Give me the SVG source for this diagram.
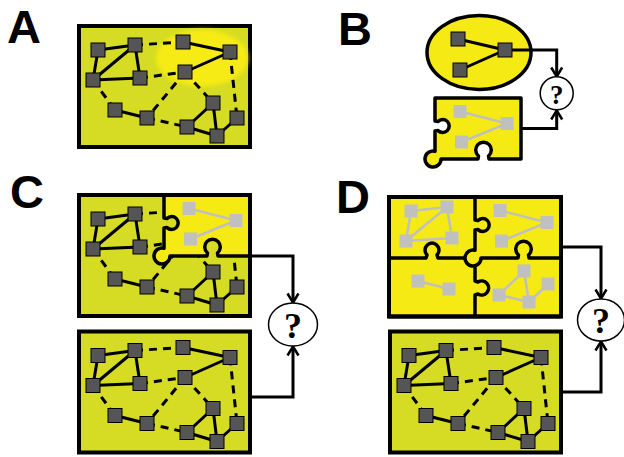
<svg xmlns="http://www.w3.org/2000/svg" xmlns:xlink="http://www.w3.org/1999/xlink" width="624" height="457" viewBox="0 0 624 457">
<style>
.box{fill:#d5dc23;stroke:#000;stroke-width:4}
.frame{fill:none;stroke:#000;stroke-width:4}
.yel{fill:#f6ea14;stroke:#000;stroke-width:3.5;stroke-linejoin:round}
.div{fill:none;stroke:#000;stroke-width:3.5;stroke-linejoin:round}
.e line{stroke:#000;stroke-width:3}
.d line{stroke:#000;stroke-width:3;stroke-dasharray:8 6}
.n{fill:#555;stroke:#000;stroke-width:1}
.g{fill:#c0c0c0}
.ge{stroke:#c0c0c0;stroke-width:2.5}
.conn{fill:none;stroke:#000;stroke-width:3}
.q{fill:#fff;stroke:#000;stroke-width:1.5}
.qt{font-family:"Liberation Serif",serif;font-weight:bold;text-anchor:middle;fill:#000}
.lab{font-family:"Liberation Sans",Arial,sans-serif;font-weight:bold;font-size:47px;fill:#000}
</style>
<defs>
<filter id="blur" x="-30%" y="-30%" width="160%" height="160%"><feGaussianBlur stdDeviation="2"/></filter>
<marker id="arr" viewBox="-11 -8 13 16" refX="0" refY="0" markerWidth="13" markerHeight="16" markerUnits="userSpaceOnUse" orient="auto">
<path d="M-9,-5.5 L0,0 L-9,5.5" fill="none" stroke="#000" stroke-width="2.5"/>
</marker>
<g id="net">
<g class="e">
<line x1="98" y1="50" x2="135" y2="45"/>
<line x1="98" y1="50" x2="93" y2="80"/>
<line x1="93" y1="80" x2="135" y2="45"/>
<line x1="135" y1="45" x2="140" y2="78"/>
<line x1="93" y1="80" x2="140" y2="78"/>
<line x1="183" y1="42" x2="230" y2="52"/>
<line x1="185" y1="72" x2="230" y2="52"/>
<line x1="115" y1="110" x2="147" y2="118"/>
<line x1="187" y1="127" x2="213" y2="103"/>
<line x1="187" y1="127" x2="217" y2="136"/>
<line x1="213" y1="103" x2="217" y2="136"/>
<line x1="217" y1="136" x2="237" y2="118"/>
</g>
<g class="d">
<line x1="135" y1="45" x2="183" y2="42"/>
<line x1="140" y1="78" x2="185" y2="72"/>
<line x1="185" y1="72" x2="147" y2="118"/>
<line x1="93" y1="80" x2="115" y2="110"/>
<line x1="147" y1="118" x2="187" y2="127"/>
<line x1="230" y1="52" x2="237" y2="118"/>
<line x1="185" y1="72" x2="213" y2="103"/>
</g>
<rect class="n" x="91" y="43" width="14" height="14"/>
<rect class="n" x="128" y="38" width="14" height="14"/>
<rect class="n" x="176" y="35" width="14" height="14"/>
<rect class="n" x="223" y="45" width="14" height="14"/>
<rect class="n" x="86" y="73" width="14" height="14"/>
<rect class="n" x="133" y="71" width="14" height="14"/>
<rect class="n" x="178" y="65" width="14" height="14"/>
<rect class="n" x="108" y="103" width="14" height="14"/>
<rect class="n" x="140" y="111" width="14" height="14"/>
<rect class="n" x="180" y="120" width="14" height="14"/>
<rect class="n" x="206" y="96" width="14" height="14"/>
<rect class="n" x="230" y="111" width="14" height="14"/>
<rect class="n" x="210" y="129" width="14" height="14"/>
</g>
<path id="piece" d="M0,0 H86 V61 H54 L53.5,58 A7.8,7.8 0 1 0 43.5,58 L43,61 H6 A8,8 0 1 1 0,53.25 V33 L3,32.5 A6.5,6.5 0 1 0 3,23.5 L0,23 Z"/>
<g id="gnet">
<line class="ge" x1="25" y1="13.5" x2="72" y2="25.5"/>
<line class="ge" x1="26.5" y1="44" x2="72" y2="25.5"/>
<rect class="g" x="18.5" y="7" width="13" height="13"/>
<rect class="g" x="65.5" y="19" width="13" height="13"/>
<rect class="g" x="20" y="37.5" width="13" height="13"/>
</g>
</defs>

<g id="labels">
<text class="lab" x="7" y="43">A</text>
<text class="lab" x="338" y="45">B</text>
<text class="lab" x="10" y="208">C</text>
<text class="lab" x="336" y="213">D</text>
</g>

<g id="panelA">
<rect class="box" x="79" y="26" width="171" height="121"/>
<ellipse cx="202" cy="58" rx="46" ry="28.5" fill="#f7eb12" filter="url(#blur)"/>
<use xlink:href="#net" href="#net"/>
</g>

<g id="panelB">
<ellipse class="yel" cx="479" cy="52.5" rx="52" ry="37"/>
<g id="panelB-net">
<line x1="460" y1="70" x2="505" y2="50" stroke="#000" stroke-width="3"/>
<line x1="458" y1="39" x2="505" y2="50" stroke="#000" stroke-width="3"/>
</g>
<g id="panelB-piece" transform="translate(435,98)">
<use xlink:href="#piece" href="#piece" class="yel"/>
<use xlink:href="#gnet" href="#gnet"/>
</g>
</g>

<g id="panelC-top">
<rect class="box" x="79" y="195" width="171" height="121"/>
<use xlink:href="#net" href="#net" transform="translate(0,169)"/>
<g transform="translate(164,195)">
<use xlink:href="#piece" href="#piece" class="yel"/>
<use xlink:href="#gnet" href="#gnet"/>
</g>
<rect class="frame" x="79" y="195" width="171" height="121"/>
</g>

<g id="panelC-bottom">
<rect class="box" x="79" y="331.5" width="171" height="121"/>
<use xlink:href="#net" href="#net" transform="translate(0,305.5)"/>
</g>

<g id="panelD-top">
<rect class="yel" x="389" y="197" width="172" height="119.5" style="stroke-width:4"/>
<path class="div" d="M389,258 H426 L427,255 A7,7 0 1 1 437,255 L438,258 H476"/>
<path class="div" d="M475,258 V281 L478,282 A7,7 0 1 1 478,294 L475,295 V316"/>
<g transform="translate(475,197)">
<use xlink:href="#piece" href="#piece" class="yel"/>
<use xlink:href="#gnet" href="#gnet"/>
</g>
<g id="gnetTL">
<line class="ge" x1="411" y1="211" x2="447" y2="207"/>
<line class="ge" x1="411" y1="211" x2="406" y2="241"/>
<line class="ge" x1="406" y1="241" x2="447" y2="207"/>
<line class="ge" x1="447" y1="207" x2="452" y2="238"/>
<line class="ge" x1="406" y1="241" x2="452" y2="238"/>
<rect class="g" x="404.5" y="204.5" width="13" height="13"/>
<rect class="g" x="440.5" y="200.5" width="13" height="13"/>
<rect class="g" x="399.5" y="234.5" width="13" height="13"/>
<rect class="g" x="445.5" y="231.5" width="13" height="13"/>
</g>
<g id="gnetBL">
<line class="ge" x1="418" y1="281" x2="449" y2="289"/>
<rect class="g" x="411.5" y="274.5" width="13" height="13"/>
<rect class="g" x="442.5" y="282.5" width="13" height="13"/>
</g>
<g id="gnetBR">
<line class="ge" x1="499" y1="295" x2="524" y2="271"/>
<line class="ge" x1="499" y1="295" x2="529" y2="302"/>
<line class="ge" x1="524" y1="271" x2="529" y2="302"/>
<line class="ge" x1="529" y1="302" x2="548" y2="284"/>
<rect class="g" x="517.5" y="264.5" width="13" height="13"/>
<rect class="g" x="541.5" y="277.5" width="13" height="13"/>
<rect class="g" x="492.5" y="288.5" width="13" height="13"/>
<rect class="g" x="522.5" y="295.5" width="13" height="13"/>
</g>
<rect class="frame" x="389" y="197" width="172" height="119.5"/>
</g>

<g id="panelD-bottom">
<rect class="box" x="390" y="331.5" width="171" height="121"/>
<use xlink:href="#net" href="#net" transform="translate(311,305.5)"/>
</g>

<g id="connectors">
<path class="conn" d="M505,50 H556.7 V76.5" marker-end="url(#arr)"/>
<path class="conn" d="M522,128.5 H556.7 V110.5" marker-end="url(#arr)"/>
<path class="conn" d="M250,256 H293 V302.5" marker-end="url(#arr)"/>
<path class="conn" d="M250,397 H293 V346.5" marker-end="url(#arr)"/>
<path class="conn" d="M561,247 H601 V298.5" marker-end="url(#arr)"/>
<path class="conn" d="M561,392 H601 V341.5" marker-end="url(#arr)"/>
</g>

<g id="panelB-nodes">
<rect class="n" x="451" y="32" width="14" height="14"/>
<rect class="n" x="453" y="63" width="14" height="14"/>
<rect class="n" x="498" y="43" width="14" height="14"/>
</g>

<g id="qB">
<circle class="q" cx="556.7" cy="93.3" r="16.5"/>
<text class="qt" x="556.7" y="103.5" font-size="27">?</text>
</g>
<g id="qC">
<ellipse class="q" cx="293" cy="324.5" rx="24.5" ry="21.5"/>
<text class="qt" x="293" y="338" font-size="36">?</text>
</g>
<g id="qD">
<ellipse class="q" cx="601" cy="320" rx="23.5" ry="21"/>
<text class="qt" x="601" y="333" font-size="36">?</text>
</g>
</svg>
